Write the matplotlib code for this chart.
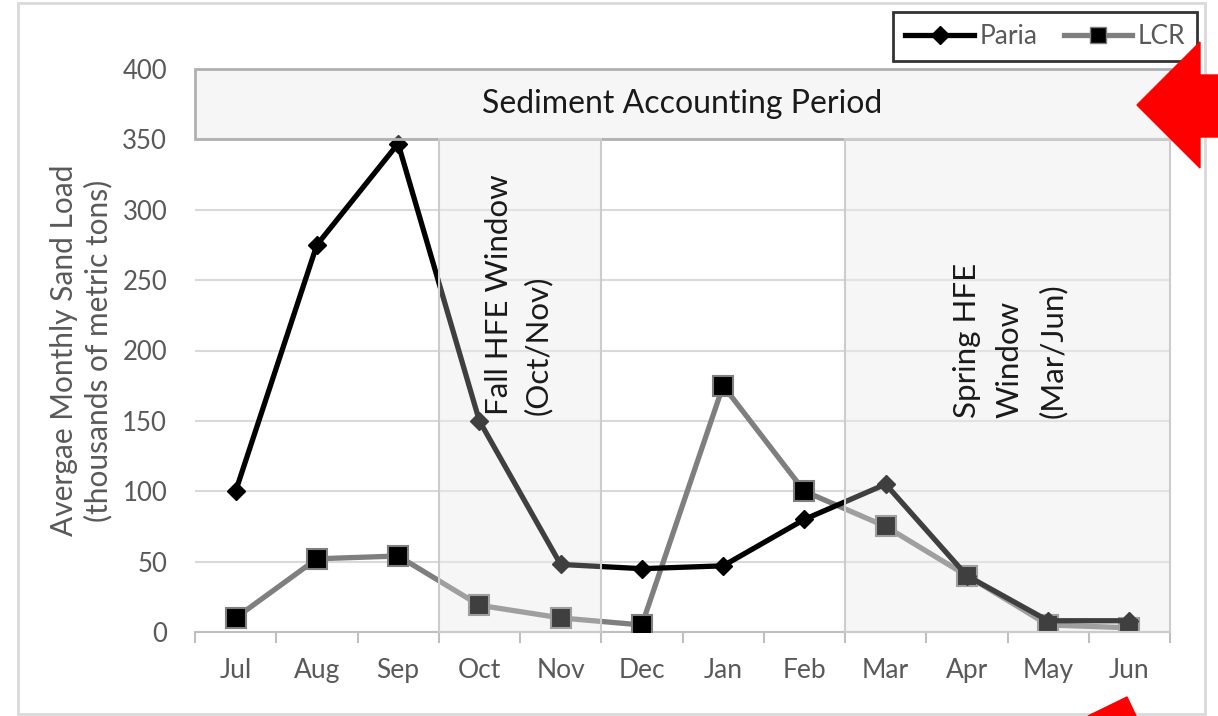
import matplotlib
matplotlib.use("Agg")
import matplotlib.pyplot as plt
from matplotlib.patches import Rectangle, Polygon
from matplotlib.lines import Line2D

plt.rcParams['font.family'] = ['Lato', 'DejaVu Sans']

months = ['Jul', 'Aug', 'Sep', 'Oct', 'Nov', 'Dec', 'Jan', 'Feb', 'Mar', 'Apr', 'May', 'Jun']
paria = [100, 275, 347, 150, 48, 45, 47, 80, 105, 40, 8, 8]
lcr = [10, 52, 54, 19, 10, 5, 175, 100, 75, 40, 5, 3]
yticks = [0, 50, 100, 150, 200, 250, 300, 350, 400]

W, H = 1218, 716
fig = plt.figure(figsize=(W / 100, H / 100), dpi=100)
ax = fig.add_axes([195 / W, 1 - 632 / H, (1170 - 195) / W, (632 - 69) / H])

x = list(range(len(months)))
TXT = '#595959'

# shaded boxes (fill below lines)
boxes = [(-0.5, 350, 12, 50, '#b0b0b0', 2.0),
         (2.5, 0, 2, 350, '#cccccc', 1.5),
         (7.5, 0, 4, 350, '#cccccc', 1.5)]
for bx, by, bw, bh, ec, lw in boxes:
    ax.add_patch(Rectangle((bx, by), bw, bh, facecolor='#f3f3f3', edgecolor='none',
                           zorder=0.2, clip_on=False))

ax.set_axisbelow(True)
ax.yaxis.grid(True, color='#d9d9d9', lw=1.5)

ax.plot(x, lcr, color='#7f7f7f', lw=3.8, marker='s', ms=15, mfc='black',
        mec='#7f7f7f', mew=1.5, zorder=3, label='LCR')
ax.plot(x, paria, color='black', lw=3.8, marker='D', ms=9, mfc='black',
        mec='black', zorder=4, label='Paria')

# translucent overlay of boxes on top of lines
for bx, by, bw, bh, ec, lw in boxes:
    ax.add_patch(Rectangle((bx, by), bw, bh, facecolor='white', alpha=0.25,
                           edgecolor='none', zorder=5, clip_on=False))
    ax.add_patch(Rectangle((bx, by), bw, bh, facecolor='none', edgecolor=ec,
                           lw=lw, zorder=5, clip_on=False))

ax.text(5.5, 375, 'Sediment Accounting Period', ha='center', va='center',
        fontsize=23, color='#1a1a1a', zorder=6)
ax.text(3.48, 154, 'Fall HFE Window\n(Oct/Nov)', rotation=90, ha='center',
        va='bottom', multialignment='left', fontsize=22.5, color='#1a1a1a',
        zorder=6, linespacing=1.45)
ax.text(9.53, 152, 'Spring HFE\nWindow\n(Mar/Jun)', rotation=90, ha='center',
        va='bottom', multialignment='left', fontsize=22.5, color='#1a1a1a',
        zorder=6, linespacing=1.62)

ax.set_xlim(-0.5, 11.5)
ax.set_ylim(0, 400)
ax.set_xticks(x)
ax.set_xticklabels(months)
ax.set_xticks([i - 0.5 for i in range(13)], minor=True)
ax.set_yticks(yticks)
ax.tick_params(axis='x', which='major', length=0, pad=19, labelsize=19, labelcolor=TXT)
ax.tick_params(axis='x', which='minor', length=8, width=1.5, color='#bfbfbf')
ax.tick_params(axis='y', length=0, pad=20, labelsize=18.5, labelcolor=TXT)
for s in ['top', 'right', 'left']:
    ax.spines[s].set_visible(False)
ax.spines['bottom'].set_color('#bfbfbf')
ax.spines['bottom'].set_linewidth(1.5)

ax.set_ylabel('Avergae Monthly Sand Load\n(thousands of metric tons)', fontsize=21.5,
              color=TXT, labelpad=7, linespacing=1.25)

handles = [Line2D([], [], color='black', lw=3.8, marker='D', ms=9, mfc='black'),
           Line2D([], [], color='#7f7f7f', lw=3.8, marker='s', ms=12, mfc='black',
                  mec='#7f7f7f')]
leg = fig.legend(handles, ['Paria', 'LCR'], loc='upper right',
                 bbox_to_anchor=(1197 / W, 1 - 12 / H), borderaxespad=0, ncol=2,
                 fontsize=19, frameon=True, fancybox=False, handlelength=2.6,
                 handletextpad=0.2, columnspacing=1.0, borderpad=0.45,
                 labelcolor=TXT)
leg.get_frame().set_edgecolor('black')
leg.get_frame().set_linewidth(2)

# outer chart frame
fig.patches.append(Rectangle((18 / W, 1 - 714 / H), (1205 - 18) / W, (714 - 3) / H,
                             transform=fig.transFigure, facecolor='none',
                             edgecolor='#d9d9d9', lw=2))

def fp(pts):
    return [(px / W, 1 - py / H) for px, py in pts]

fig.patches.append(Polygon(fp([(1137, 105), (1200, 42), (1200, 75), (1218, 75),
                               (1218, 137), (1200, 137), (1200, 168)]),
                           closed=True, transform=fig.transFigure, color='red', zorder=10))
fig.patches.append(Polygon(fp([(1088, 716), (1127, 697), (1136, 716)]),
                           closed=True, transform=fig.transFigure, color='red', zorder=10))

fig.savefig('out.png', dpi=100)
